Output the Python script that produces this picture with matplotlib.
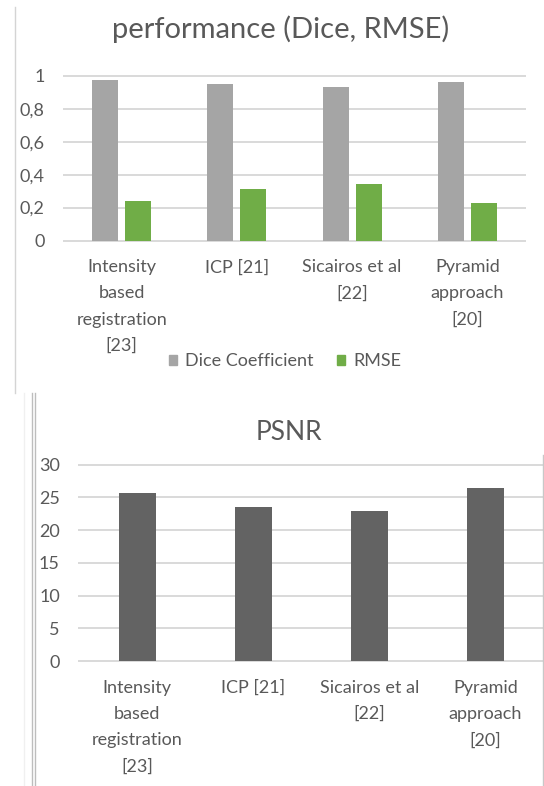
import matplotlib.pyplot as plt
from matplotlib.lines import Line2D
from matplotlib.patches import Patch
from matplotlib.ticker import FuncFormatter
import numpy as np

methods = ["Intensity\nbased\nregistration\n[23]", "ICP [21]",
           "Sicairos et al\n[22]", "Pyramid\napproach\n[20]"]
dice = [0.974, 0.953, 0.933, 0.962]
rmse = [0.238, 0.313, 0.342, 0.226]
psnr = [25.7, 23.6, 22.9, 26.4]

TXT = "#595959"
GRID = "#D9D9D9"
plt.rcParams['font.family'] = ['Lato', 'DejaVu Sans']
plt.rcParams['text.color'] = TXT

W, H = 544, 786
fig = plt.figure(figsize=(W / 100, H / 100), dpi=100)


def px_axes(left, top, right, bottom):
    # axes placed by pixel box of the figure
    return fig.add_axes([left / W, 1 - bottom / H, (right - left) / W, (bottom - top) / H])


def comma(v, pos):
    s = "%g" % v
    return s.replace(".", ",")


def style(ax, ticks):
    ax.set_ylim(ticks[0], ticks[-1])
    ax.set_xlim(-0.5, len(methods) - 0.5)
    for s in ax.spines.values():
        s.set_visible(False)
    for t in ticks:
        ax.axhline(t, color=GRID, lw=1.4, zorder=0, clip_on=False)
    ax.set_yticks(ticks)
    ax.yaxis.set_major_formatter(FuncFormatter(comma))
    ax.set_xticks(range(len(methods)))
    ax.set_xticklabels(methods, linespacing=1.78)
    ax.tick_params(axis="y", length=0, pad=14, labelsize=13, labelcolor=TXT)
    ax.tick_params(axis="x", length=0, pad=13.5, labelsize=13, labelcolor=TXT)


# top chart: Dice and RMSE
ax1 = px_axes(64, 76, 525, 240.5)
x = np.arange(len(methods))
bw = 0.225
off = 0.1425
ax1.bar(x - off, dice, bw, color="#A5A5A5", zorder=2, label="Dice Coefficient")
ax1.bar(x + off, rmse, bw, color="#70AD47", zorder=2, label="RMSE")
style(ax1, [0, 0.2, 0.4, 0.6, 0.8, 1.0])
fig.text(281 / W, 1 - 29 / H, "performance (Dice, RMSE)", ha="center", va="center",
         fontsize=21, color=TXT)
handles = [Patch(color="#A5A5A5"), Patch(color="#70AD47")]
fig.legend(handles, ["Dice Coefficient", "RMSE"], loc="center",
           bbox_to_anchor=(285 / W, 1 - 361.5 / H), ncol=2, frameon=False,
           fontsize=13, handlelength=0.45, handleheight=0.45,
           handletextpad=0.45, columnspacing=1.3, labelcolor=TXT)

# bottom chart: PSNR
ax2 = px_axes(79.3, 464.7, 543.3, 661)
ax2.bar(x, psnr, 0.315, color="#636363", zorder=2)
style(ax2, [0, 5, 10, 15, 20, 25, 30])
fig.text(289 / W, 1 - 432 / H, "PSNR", ha="center", va="center",
         fontsize=19, color=TXT)

# frame lines of the two chart boxes
def vline(xp, y0, y1, color, lw=1.0):
    fig.add_artist(Line2D([xp / W, xp / W], [1 - y0 / H, 1 - y1 / H],
                          color=color, lw=lw, transform=fig.transFigure))

vline(15.3, 7, 393, "#D4D4D4")
vline(24.3, 393, 786, "#F0F0F0")
vline(32.0, 393, 786, "#BDBDBD")
vline(35.3, 393, 786, "#BDBDBD")
vline(542.7, 455, 786, "#C8C8C8")

fig.savefig("out.png", dpi=100, facecolor="white")
